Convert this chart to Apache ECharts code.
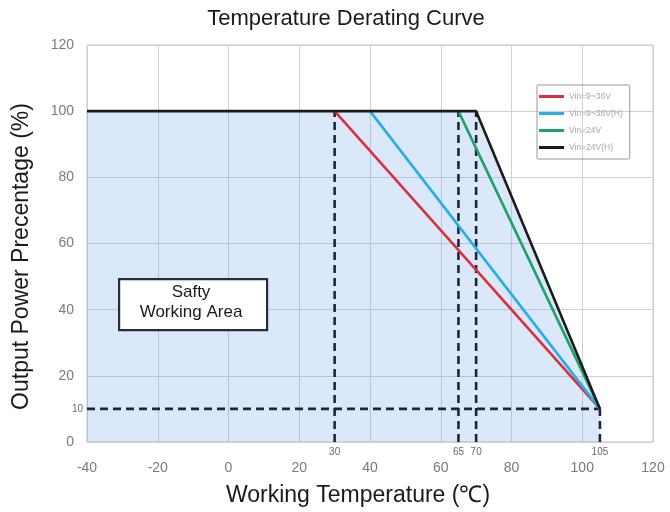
<!DOCTYPE html>
<html>
<head>
<meta charset="utf-8">
<script src="https://cdn.jsdelivr.net/npm/echarts@6/dist/echarts.min.js"></script>
<style>html,body{margin:0;padding:0;background:#fff}#c{width:670px;height:512px}</style>
</head>
<body>
<div id="c"></div>
<script>
// ---- data ----
var xTicks = [-40, -20, 0, 20, 40, 60, 80, 100, 120];
var yTicks = [0, 20, 40, 60, 80, 100, 120];
var xMarks = [30, 65, 70, 105];
var yMarks = [10];
var seriesNames = ['Vin=9~36V', 'Vin=9~36V(H)', 'Vin=24V', 'Vin=24V(H)'];
var red   = [[30, 100], [105, 10]];
var blue  = [[40, 100], [105, 10]];
var green = [[65, 100], [105, 10]];
var black = [[-40, 100], [70, 100], [105, 10]];
var dashSegments = [
  [[30, 0], [30, 100]],
  [[65, 0], [65, 100]],
  [[70, 0], [70, 100]],
  [[105, 0], [105, 10]],
  [[-40, 10], [105, 10]]
];
var areaLabel = 'Safty\nWorking Area';

var FONT = "'Liberation Sans', Arial, sans-serif";
var chart = echarts.init(document.getElementById('c'), null, {renderer: 'canvas'});

var series = [];
series.push({
  type: 'line', data: black, symbol: 'none', silent: true,
  lineStyle: {width: 0},
  areaStyle: {color: 'rgba(105,160,235,0.35)', origin: 'start'},
  z: 1
});
dashSegments.forEach(function (seg) {
  series.push({
    type: 'line', data: seg, symbol: 'none', silent: true,
    lineStyle: {color: '#1c2636', width: 2.6, type: [8, 5]},
    z: 2
  });
});
var cols = ['#d8303c', '#29ade6', '#20a06a', '#1b1b1b'];
[red, blue, green, black].forEach(function (d, i) {
  series.push({
    name: seriesNames[i], type: 'line', data: d, symbol: 'none',
    lineStyle: {color: cols[i], width: 2.6},
    itemStyle: {color: cols[i]},
    z: 3
  });
});

chart.setOption({
  animation: false,
  textStyle: {fontFamily: FONT},
  title: {
    text: 'Temperature Derating Curve',
    left: 346, top: 8, textAlign: 'center', padding: 0,
    textStyle: {fontSize: 22, fontWeight: 'normal', color: '#1a1a1a', fontFamily: FONT}
  },
  legend: {
    data: seriesNames, orient: 'vertical', left: 537, top: 85,
    icon: 'rect', itemWidth: 25, itemHeight: 3, itemGap: 8,
    borderColor: '#999', borderWidth: 1, borderRadius: 1,
    padding: [7, 7, 7, 2],
    textStyle: {fontSize: 8.5, color: '#a8a8a8', fontFamily: FONT}
  },
  grid: {
    left: 87, right: 17, top: 45, bottom: 70,
    outerBoundsMode: 'none', containLabel: false,
    show: true, borderColor: '#c4c4c4', borderWidth: 1, backgroundColor: 'transparent'
  },
  xAxis: [{
    type: 'value', min: -40, max: 120, interval: 20,
    name: 'Working Temperature (℃)', nameLocation: 'middle', nameGap: 42,
    nameTextStyle: {fontSize: 23, color: '#1a1a1a', fontFamily: FONT, padding: [0, 24, 0, 0]},
    axisLine: {show: false}, axisTick: {show: false},
    splitLine: {show: true, lineStyle: {color: '#d0d0d0', width: 1}},
    axisLabel: {fontSize: 14, color: '#7a7a7a', margin: 19, showMinLabel: true, showMaxLabel: true}
  }, {
    type: 'value', min: -40, max: 120, position: 'bottom',
    axisLine: {show: false}, axisTick: {show: false}, splitLine: {show: false},
    axisLabel: {customValues: xMarks, fontSize: 10, color: '#6a6a6a', margin: 5, hideOverlap: false}
  }],
  yAxis: [{
    type: 'value', min: 0, max: 120, interval: 20,
    name: 'Output Power Precentage (%)', nameLocation: 'middle', nameGap: 54,
    nameTextStyle: {fontSize: 23, color: '#1a1a1a', fontFamily: FONT, padding: [0, 26, 0, 0]},
    axisLine: {show: false}, axisTick: {show: false},
    splitLine: {show: true, lineStyle: {color: '#d0d0d0', width: 1}},
    axisLabel: {fontSize: 14, color: '#7a7a7a', margin: 13}
  }, {
    type: 'value', min: 0, max: 120, position: 'left',
    axisLine: {show: false}, axisTick: {show: false}, splitLine: {show: false},
    axisLabel: {customValues: yMarks, fontSize: 10, color: '#6a6a6a', margin: 4}
  }],
  graphic: [{
    type: 'rect', left: 118, top: 278, z: 100,
    shape: {x: 0, y: 0, width: 148, height: 51},
    style: {fill: '#ffffff', stroke: '#252d38', lineWidth: 2.2}
  }, {
    type: 'text', x: 191, y: 302, z: 101,
    style: {text: areaLabel, font: '17px ' + FONT, fill: '#1a1a1a', align: 'center', verticalAlign: 'middle', lineHeight: 20}
  }],
  series: series
});
</script>
</body>
</html>
